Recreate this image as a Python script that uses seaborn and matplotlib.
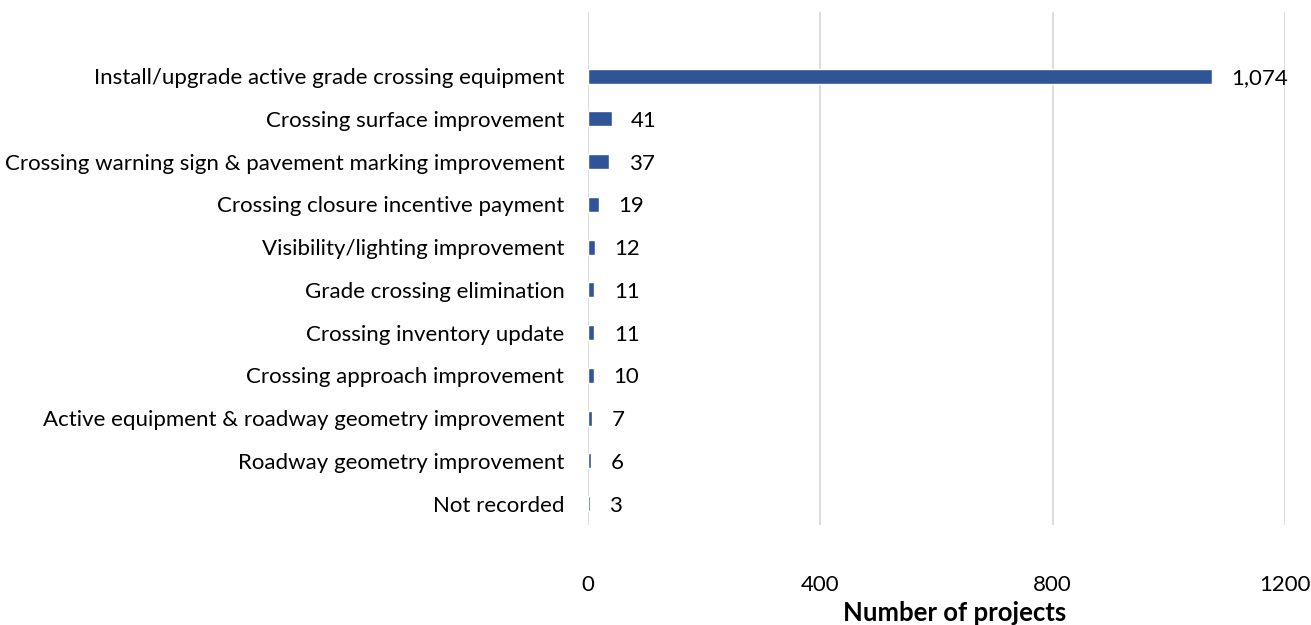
import matplotlib
matplotlib.use("Agg")
import matplotlib.pyplot as plt
import seaborn as sns
import pandas as pd

categories = [
    "Install/upgrade active grade crossing equipment",
    "Crossing surface improvement",
    "Crossing warning sign & pavement marking improvement",
    "Crossing closure incentive payment",
    "Visibility/lighting improvement",
    "Grade crossing elimination",
    "Crossing inventory update",
    "Crossing approach improvement",
    "Active equipment & roadway geometry improvement",
    "Roadway geometry improvement",
    "Not recorded",
]
projects = [1074, 41, 37, 19, 12, 11, 11, 10, 7, 6, 3]
x_ticks = [0, 400, 800, 1200]

df = pd.DataFrame({"category": categories, "projects": projects})

sns.set_theme(style="white")
plt.rcParams["font.family"] = ["Lato", "DejaVu Sans"]

fig = plt.figure(figsize=(13.11, 6.25), dpi=100)
ax = fig.add_axes([0.4485, 0.16, 0.5315, 0.8208])

sns.barplot(data=df, x="projects", y="category", order=categories,
            color="#2F5597", saturation=1, width=0.35, ax=ax)

ax.set_xlim(0, 1200)
ax.set_ylim(len(categories) - 0.5, -1.5)
ax.set_xticks(x_ticks)
ax.set_xticklabels([str(t) for t in x_ticks])
ax.xaxis.grid(True, color="#D9D9D9", linewidth=1.3)
ax.set_axisbelow(True)
for s in ax.spines.values():
    s.set_visible(False)

fs = 16
ax.tick_params(axis="y", length=0, pad=17, labelsize=fs, labelcolor="#000000")
ax.tick_params(axis="x", length=0, pad=36, labelsize=fs, labelcolor="#000000")
ax.set_ylabel("")
ax.set_xlabel("Number of projects", fontsize=18.5, fontweight="bold", color="#000000")
ax.xaxis.set_label_coords(0.5265, -0.148)

labels = [f"{v:,}" for v in projects]
texts = ax.bar_label(ax.containers[0], labels=labels, padding=14, fontsize=fs, color="#000000")
for t in texts:
    t.set_verticalalignment("center_baseline")

fig.savefig("out.png", dpi=100)
